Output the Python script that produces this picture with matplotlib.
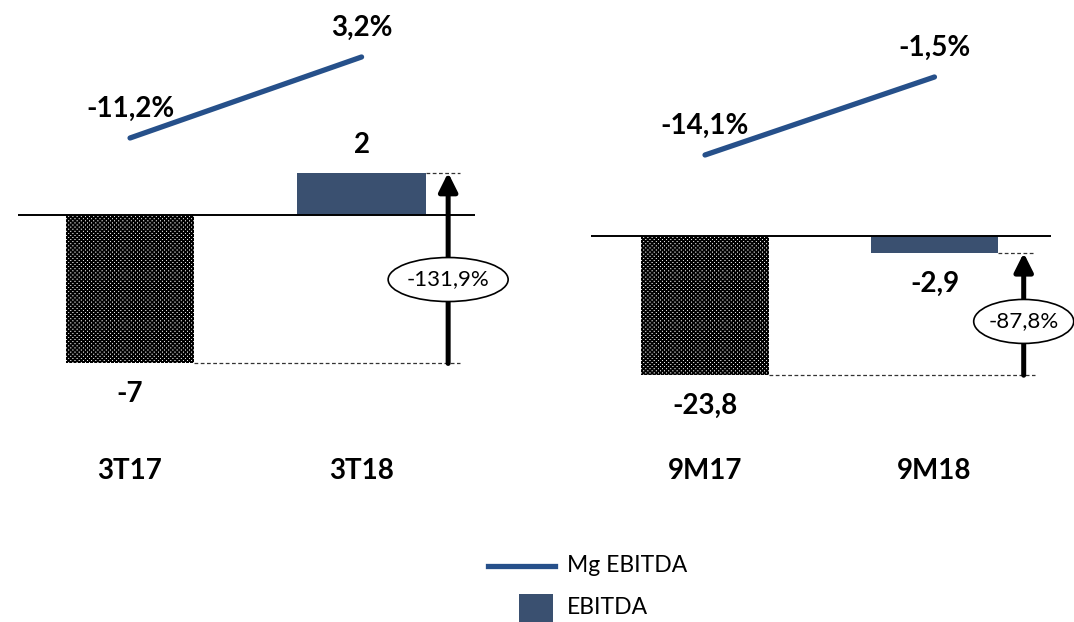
import matplotlib
matplotlib.use('Agg')
import matplotlib.pyplot as plt
from matplotlib.lines import Line2D
from matplotlib.patches import Rectangle, Ellipse

# 数据
categories_3t = ['3T17', '3T18']
ebitda_3t = [-7, 2]
margin_3t = [-11.2, 3.2]
change_3t = '-131,9%'

categories_9m = ['9M17', '9M18']
ebitda_9m = [-23.8, -2.9]
margin_9m = [-14.1, -1.5]
change_9m = '-87,8%'

BAR_COLOR = '#3a5070'
LINE_COLOR = '#26508a'

plt.rcParams['font.family'] = ['Lato', 'DejaVu Sans']
plt.rcParams['hatch.linewidth'] = 1.25

W, H = 1074, 622
fig = plt.figure(figsize=(W / 100, H / 100), dpi=100)


def fmt_num(v):
    s = f'{v:.1f}'.replace('.', ',')
    return s[:-2] if s.endswith(',0') else s


def fmt_pct(v):
    return f'{v:.1f}%'.replace('.', ',')


def draw_panel(left_px, right_px, xlim, ylim_bar, ylim_line,
               cats, ebitda, margin, change, arrow_x, ell_w_px):
    ax = fig.add_axes([left_px / W, 0, (right_px - left_px) / W, 1])
    ax.set_xlim(*xlim)
    ax.set_ylim(*ylim_bar)
    ax.axis('off')
    x = [0, 1]
    # 每像素对应的数据单位
    dx = (xlim[1] - xlim[0]) / (right_px - left_px)
    dy = (ylim_bar[1] - ylim_bar[0]) / H

    # 柱子
    ax.bar(x[0], ebitda[0], width=0.555, color='white', edgecolor='black',
           hatch='xxxxxxxx', linewidth=0)
    ax.bar(x[1], ebitda[1], width=0.555, color=BAR_COLOR, linewidth=0)
    ax.axhline(0, color='black', lw=1.4)

    # 数值标签
    for xi, v in zip(x, ebitda):
        off = 20 if v > 0 else -22
        ax.annotate(fmt_num(v), (xi, v), xytext=(0, off), textcoords='offset points',
                    ha='center', va='center', fontsize=20, fontweight='bold')

    # 分类标签
    for xi, c in zip(x, cats):
        ax.text(xi, 1 - 471 / H, c, transform=ax.get_xaxis_transform(),
                ha='center', va='center', fontsize=20, fontweight='bold')

    # 虚线和箭头
    ax.hlines(ebitda[0], x[0] + 0.2775, arrow_x + 0.05, color='#333333',
              lw=0.9, linestyles=(0, (3, 2)))
    ax.hlines(ebitda[1], x[1] + 0.2775, arrow_x + 0.05, color='#333333',
              lw=0.9, linestyles=(0, (3, 2)))
    ax.annotate('', xy=(arrow_x, ebitda[1]), xytext=(arrow_x, ebitda[0]),
                arrowprops=dict(arrowstyle='-|>', lw=3.6, color='black',
                                mutation_scale=28, shrinkA=0, shrinkB=0))
    ymid = ebitda[0] + 0.44 * (ebitda[1] - ebitda[0])
    ax.add_patch(Ellipse((arrow_x, ymid), ell_w_px * dx, 44 * dy,
                         fc='white', ec='black', lw=1.2, zorder=3, clip_on=False))
    ax.text(arrow_x, ymid, change, ha='center', va='center', fontsize=16, zorder=4)

    # 利润率折线
    ax2 = ax.twinx()
    ax2.set_ylim(*ylim_line)
    ax2.axis('off')
    ax2.plot(x, margin, color=LINE_COLOR, lw=3.8, solid_capstyle='round')
    for xi, v in zip(x, margin):
        ax2.annotate(fmt_pct(v), (xi, v), xytext=(0, 21), textcoords='offset points',
                     ha='center', va='center', fontsize=20, fontweight='bold')
    return ax


draw_panel(18, 475, (-0.484, 1.490), (-19.2, 10.15), (-97.24, 13.33),
           categories_3t, ebitda_3t, margin_3t, change_3t, 1.374, 120)
draw_panel(591, 1051, (-0.497, 1.508), (-65.98, 40.34), (-89.55, 10.94),
           categories_9m, ebitda_9m, margin_9m, change_9m, 1.389, 100)

# 图例
fig.add_artist(Line2D([488 / W, 555 / W], [1 - 566 / H] * 2, transform=fig.transFigure,
                      color=LINE_COLOR, lw=3.8))
fig.add_artist(Rectangle((519 / W, 1 - 622 / H), 34 / W, 28 / H, transform=fig.transFigure,
                         color=BAR_COLOR, lw=0))
fig.text(567 / W, 1 - 566 / H, 'Mg EBITDA', ha='left', va='center', fontsize=16.5)
fig.text(567 / W, 1 - 608 / H, 'EBITDA', ha='left', va='center', fontsize=16.5)

fig.savefig('out.png', dpi=100, facecolor='white')
